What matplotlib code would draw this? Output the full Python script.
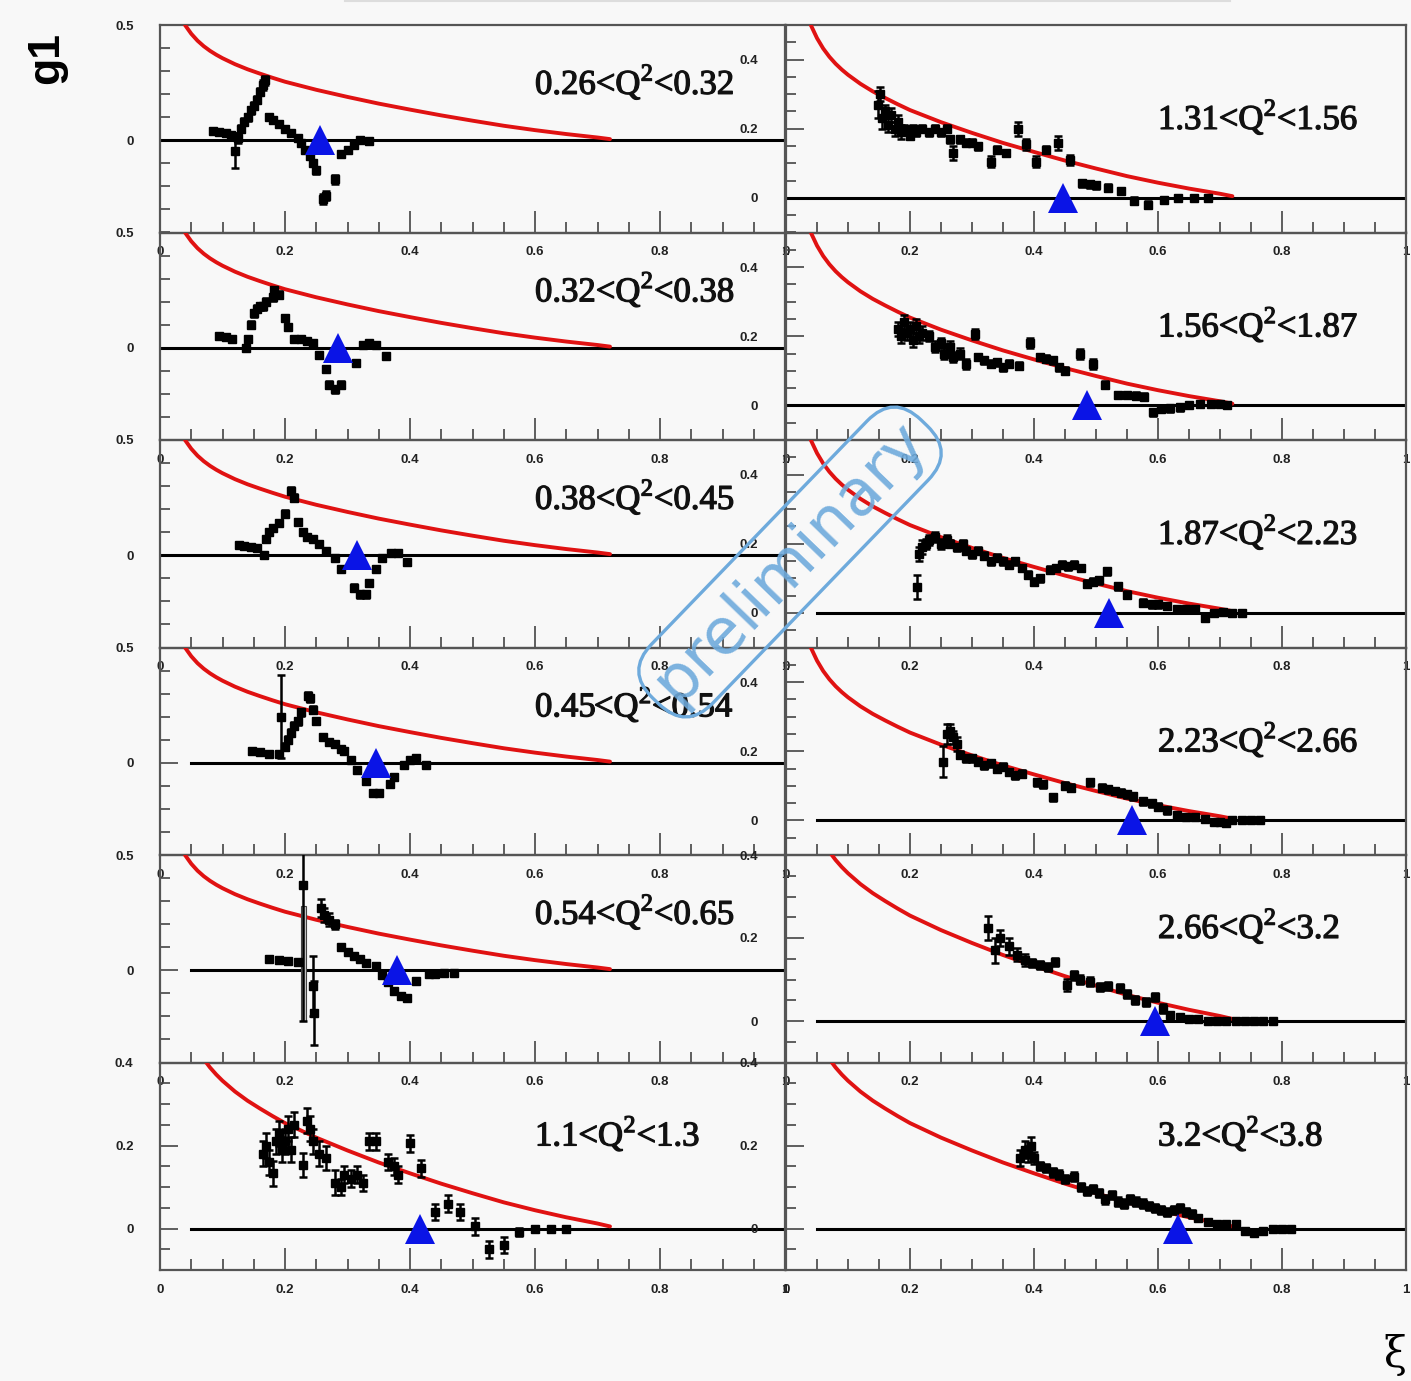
import numpy as np
import matplotlib.pyplot as plt
import matplotlib.patheffects as pe
from matplotlib.ticker import FixedLocator, FuncFormatter

plt.rcParams["mathtext.fontset"] = "custom"
plt.rcParams["mathtext.rm"] = "Liberation Serif"

# Q^2 bins: left column (rows top to bottom), then right column
q2_labels = [
    "0.26<Q$^{\\mathrm{2}}$<0.32", "0.32<Q$^{\\mathrm{2}}$<0.38",
    "0.38<Q$^{\\mathrm{2}}$<0.45", "0.45<Q$^{\\mathrm{2}}$<0.54",
    "0.54<Q$^{\\mathrm{2}}$<0.65", "1.1<Q$^{\\mathrm{2}}$<1.3",
    "1.31<Q$^{\\mathrm{2}}$<1.56", "1.56<Q$^{\\mathrm{2}}$<1.87",
    "1.87<Q$^{\\mathrm{2}}$<2.23", "2.23<Q$^{\\mathrm{2}}$<2.66",
    "2.66<Q$^{\\mathrm{2}}$<3.2", "3.2<Q$^{\\mathrm{2}}$<3.8",
]

# xi position of the blue triangle in each bin
xi_triangle = [0.256, 0.285, 0.315, 0.346, 0.379, 0.416,
               0.447, 0.485, 0.521, 0.558, 0.595, 0.632]

# model curve (same in every panel)
xi_model = [0.04, 0.05, 0.06, 0.07, 0.08, 0.09, 0.10, 0.12, 0.14, 0.16, 0.18, 0.20,
            0.25, 0.30, 0.35, 0.40, 0.45, 0.50, 0.55, 0.60, 0.65, 0.70, 0.72]
g1_model = [0.500, 0.462, 0.432, 0.408, 0.388, 0.371, 0.356, 0.330, 0.308, 0.289,
            0.271, 0.254, 0.219, 0.188, 0.159, 0.133, 0.108, 0.085, 0.063, 0.044,
            0.027, 0.012, 0.005]

# measured g1: (xi, g1, error)
bin_026_032 = [
    (0.085, 0.040, 0.01), (0.095, 0.035, 0.01), (0.105, 0.030, 0.01), (0.113, 0.025, 0.01),
    (0.120, -0.045, 0.075), (0.125, 0.010, 0.02), (0.130, 0.050, 0.015), (0.135, 0.080, 0.015),
    (0.140, 0.100, 0.015), (0.145, 0.130, 0.015), (0.150, 0.150, 0.015), (0.155, 0.175, 0.015),
    (0.160, 0.210, 0.015), (0.165, 0.240, 0.02), (0.168, 0.260, 0.02), (0.175, 0.100, 0.01),
    (0.180, 0.090, 0.01), (0.190, 0.070, 0.01), (0.200, 0.050, 0.01), (0.210, 0.030, 0.01),
    (0.220, 0.010, 0.01), (0.225, -0.010, 0.01), (0.232, -0.040, 0.01), (0.240, -0.070, 0.01),
    (0.245, -0.100, 0.01), (0.250, -0.130, 0.015), (0.260, -0.255, 0.02), (0.265, -0.240, 0.02),
    (0.280, -0.170, 0.02), (0.290, -0.060, 0.01), (0.300, -0.040, 0.01), (0.310, -0.020, 0.01),
    (0.320, 0.000, 0.01), (0.335, -0.005, 0.01),
]
bin_032_038 = [
    (0.095, 0.050, 0.01), (0.105, 0.045, 0.01), (0.115, 0.040, 0.01), (0.137, 0.000, 0.01),
    (0.140, 0.040, 0.01), (0.145, 0.100, 0.015), (0.150, 0.150, 0.015), (0.155, 0.170, 0.015),
    (0.160, 0.180, 0.015), (0.165, 0.180, 0.015), (0.170, 0.200, 0.015), (0.180, 0.220, 0.015),
    (0.183, 0.250, 0.015), (0.190, 0.230, 0.015), (0.200, 0.130, 0.01), (0.205, 0.090, 0.01),
    (0.215, 0.040, 0.01), (0.225, 0.040, 0.01), (0.235, 0.030, 0.01), (0.245, 0.020, 0.01),
    (0.255, -0.030, 0.01), (0.265, -0.090, 0.01), (0.270, -0.160, 0.015), (0.280, -0.180, 0.015),
    (0.290, -0.160, 0.015), (0.314, -0.065, 0.01), (0.325, 0.010, 0.01), (0.335, 0.020, 0.01),
    (0.345, 0.010, 0.01), (0.362, -0.035, 0.01),
]
bin_038_045 = [
    (0.126, 0.045, 0.01), (0.135, 0.040, 0.01), (0.145, 0.035, 0.01), (0.155, 0.030, 0.01),
    (0.166, 0.000, 0.01), (0.170, 0.070, 0.01), (0.175, 0.100, 0.01), (0.180, 0.120, 0.01),
    (0.190, 0.140, 0.01), (0.200, 0.180, 0.015), (0.209, 0.280, 0.015), (0.215, 0.250, 0.015),
    (0.220, 0.145, 0.01), (0.228, 0.100, 0.01), (0.235, 0.080, 0.01), (0.245, 0.070, 0.01),
    (0.255, 0.050, 0.01), (0.265, 0.020, 0.01), (0.280, -0.010, 0.01), (0.290, -0.060, 0.01),
    (0.310, -0.140, 0.015), (0.320, -0.170, 0.015), (0.330, -0.170, 0.015), (0.335, -0.120, 0.01),
    (0.345, -0.060, 0.01), (0.355, -0.010, 0.01), (0.370, 0.010, 0.01), (0.380, 0.010, 0.01),
    (0.395, -0.030, 0.01),
]
bin_045_054 = [
    (0.147, 0.050, 0.01), (0.160, 0.045, 0.01), (0.175, 0.040, 0.01), (0.190, 0.040, 0.01),
    (0.193, 0.200, 0.18), (0.200, 0.070, 0.015), (0.205, 0.100, 0.015), (0.210, 0.130, 0.015),
    (0.215, 0.160, 0.015), (0.220, 0.180, 0.015), (0.225, 0.220, 0.015), (0.236, 0.290, 0.015),
    (0.240, 0.280, 0.015), (0.245, 0.230, 0.015), (0.250, 0.180, 0.01), (0.260, 0.110, 0.01),
    (0.270, 0.090, 0.01), (0.280, 0.080, 0.01), (0.290, 0.060, 0.01), (0.295, 0.050, 0.01),
    (0.305, 0.010, 0.01), (0.315, -0.030, 0.01), (0.330, -0.080, 0.01), (0.340, -0.130, 0.01),
    (0.350, -0.130, 0.01), (0.368, -0.090, 0.01), (0.375, -0.060, 0.01), (0.390, -0.010, 0.01),
    (0.400, 0.010, 0.01), (0.410, 0.020, 0.01), (0.425, -0.010, 0.01),
]
bin_054_065 = [
    (0.175, 0.050, 0.01), (0.190, 0.045, 0.01), (0.205, 0.040, 0.01), (0.220, 0.035, 0.01),
    (0.229, 0.370, 0.59), (0.245, -0.070, 0.13), (0.247, -0.185, 0.14), (0.257, 0.270, 0.04),
    (0.262, 0.240, 0.03), (0.270, 0.220, 0.03), (0.280, 0.200, 0.02), (0.290, 0.100, 0.01),
    (0.300, 0.080, 0.01), (0.310, 0.060, 0.01), (0.320, 0.050, 0.01), (0.330, 0.030, 0.01),
    (0.345, 0.020, 0.01), (0.355, -0.020, 0.01), (0.365, -0.050, 0.01), (0.375, -0.090, 0.01),
    (0.385, -0.110, 0.01), (0.395, -0.120, 0.01), (0.410, -0.045, 0.01), (0.430, -0.015, 0.01),
    (0.440, -0.015, 0.01), (0.455, -0.010, 0.01), (0.470, -0.010, 0.01),
]
bin_11_13 = [
    (0.165, 0.180, 0.03), (0.170, 0.200, 0.03), (0.175, 0.160, 0.03), (0.180, 0.133, 0.03),
    (0.185, 0.210, 0.03), (0.190, 0.230, 0.03), (0.195, 0.190, 0.03), (0.200, 0.210, 0.03),
    (0.205, 0.240, 0.03), (0.210, 0.190, 0.03), (0.215, 0.250, 0.03), (0.228, 0.153, 0.03),
    (0.235, 0.260, 0.03), (0.240, 0.240, 0.03), (0.245, 0.210, 0.03), (0.255, 0.180, 0.03),
    (0.265, 0.170, 0.03), (0.280, 0.110, 0.03), (0.290, 0.100, 0.02), (0.295, 0.130, 0.02),
    (0.305, 0.120, 0.02), (0.315, 0.130, 0.02), (0.325, 0.110, 0.02), (0.335, 0.210, 0.02),
    (0.345, 0.210, 0.02), (0.365, 0.160, 0.02), (0.375, 0.150, 0.02), (0.380, 0.130, 0.02),
    (0.400, 0.205, 0.02), (0.418, 0.145, 0.02), (0.440, 0.040, 0.02), (0.460, 0.060, 0.02),
    (0.480, 0.040, 0.02), (0.504, 0.005, 0.02), (0.527, -0.050, 0.02), (0.550, -0.040, 0.02),
    (0.575, -0.008, 0.01), (0.600, 0.000, 0.005), (0.626, 0.000, 0.005), (0.650, 0.000, 0.005),
]
bin_131_156 = [
    (0.148, 0.270, 0.04), (0.152, 0.300, 0.02), (0.155, 0.230, 0.03), (0.160, 0.250, 0.02),
    (0.165, 0.210, 0.02), (0.170, 0.240, 0.02), (0.175, 0.200, 0.02), (0.180, 0.220, 0.02),
    (0.185, 0.190, 0.02), (0.190, 0.200, 0.01), (0.200, 0.180, 0.01), (0.205, 0.200, 0.01),
    (0.210, 0.190, 0.01), (0.220, 0.200, 0.01), (0.230, 0.190, 0.01), (0.240, 0.200, 0.01),
    (0.250, 0.190, 0.01), (0.260, 0.200, 0.01), (0.265, 0.170, 0.01), (0.270, 0.130, 0.02),
    (0.280, 0.170, 0.01), (0.290, 0.160, 0.01), (0.300, 0.160, 0.01), (0.310, 0.150, 0.01),
    (0.330, 0.105, 0.015), (0.340, 0.140, 0.01), (0.355, 0.130, 0.01), (0.374, 0.200, 0.02),
    (0.387, 0.155, 0.015), (0.403, 0.105, 0.015), (0.420, 0.140, 0.01), (0.439, 0.160, 0.02),
    (0.458, 0.110, 0.015), (0.477, 0.043, 0.01), (0.490, 0.040, 0.01), (0.500, 0.037, 0.01),
    (0.520, 0.030, 0.01), (0.540, 0.020, 0.01), (0.561, -0.008, 0.01), (0.584, -0.020, 0.01),
    (0.610, -0.005, 0.005), (0.632, 0.000, 0.005), (0.658, 0.000, 0.005), (0.680, 0.000, 0.005),
]
bin_156_187 = [
    (0.180, 0.220, 0.02), (0.185, 0.200, 0.02), (0.190, 0.240, 0.02), (0.195, 0.210, 0.02),
    (0.200, 0.220, 0.02), (0.205, 0.190, 0.02), (0.210, 0.230, 0.02), (0.215, 0.200, 0.02),
    (0.220, 0.210, 0.02), (0.230, 0.200, 0.015), (0.240, 0.170, 0.015), (0.250, 0.180, 0.015),
    (0.255, 0.150, 0.015), (0.265, 0.170, 0.015), (0.270, 0.140, 0.015), (0.280, 0.150, 0.015),
    (0.290, 0.120, 0.015), (0.305, 0.206, 0.015), (0.310, 0.140, 0.01), (0.320, 0.130, 0.01),
    (0.330, 0.120, 0.01), (0.340, 0.125, 0.01), (0.350, 0.110, 0.01), (0.360, 0.120, 0.01),
    (0.375, 0.115, 0.01), (0.394, 0.180, 0.015), (0.410, 0.140, 0.01), (0.420, 0.135, 0.01),
    (0.430, 0.130, 0.01), (0.440, 0.110, 0.01), (0.450, 0.100, 0.01), (0.474, 0.148, 0.015),
    (0.495, 0.120, 0.015), (0.515, 0.060, 0.01), (0.535, 0.030, 0.01), (0.550, 0.030, 0.01),
    (0.565, 0.028, 0.01), (0.578, 0.025, 0.01), (0.592, -0.020, 0.01), (0.605, -0.010, 0.01),
    (0.620, -0.008, 0.01), (0.635, -0.005, 0.01), (0.650, 0.000, 0.005), (0.668, 0.005, 0.005),
    (0.685, 0.005, 0.005), (0.700, 0.003, 0.005), (0.712, 0.000, 0.005),
]
bin_187_223 = [
    (0.211, 0.076, 0.035), (0.215, 0.170, 0.02), (0.220, 0.190, 0.02), (0.225, 0.200, 0.015),
    (0.230, 0.210, 0.015), (0.240, 0.220, 0.015), (0.250, 0.200, 0.015), (0.260, 0.210, 0.015),
    (0.265, 0.200, 0.01), (0.275, 0.190, 0.01), (0.285, 0.200, 0.01), (0.290, 0.180, 0.01),
    (0.300, 0.170, 0.01), (0.310, 0.180, 0.01), (0.320, 0.165, 0.01), (0.330, 0.150, 0.01),
    (0.340, 0.160, 0.01), (0.350, 0.150, 0.01), (0.360, 0.140, 0.01), (0.370, 0.150, 0.01),
    (0.380, 0.130, 0.01), (0.390, 0.110, 0.01), (0.400, 0.090, 0.01), (0.410, 0.100, 0.01),
    (0.425, 0.125, 0.01), (0.435, 0.130, 0.01), (0.445, 0.140, 0.01), (0.455, 0.135, 0.01),
    (0.465, 0.140, 0.01), (0.475, 0.130, 0.01), (0.485, 0.085, 0.01), (0.495, 0.090, 0.01),
    (0.505, 0.095, 0.01), (0.517, 0.120, 0.01), (0.535, 0.077, 0.01), (0.550, 0.053, 0.01),
    (0.575, 0.030, 0.01), (0.590, 0.025, 0.01), (0.600, 0.025, 0.01), (0.615, 0.020, 0.01),
    (0.630, 0.012, 0.005), (0.645, 0.012, 0.005), (0.660, 0.010, 0.005), (0.676, -0.014, 0.01),
    (0.690, 0.000, 0.005), (0.705, 0.003, 0.005), (0.720, 0.000, 0.005), (0.735, 0.000, 0.005),
]
bin_223_266 = [
    (0.254, 0.170, 0.045), (0.260, 0.250, 0.03), (0.265, 0.260, 0.02), (0.270, 0.240, 0.02),
    (0.275, 0.220, 0.02), (0.280, 0.190, 0.01), (0.290, 0.180, 0.01), (0.300, 0.180, 0.01),
    (0.310, 0.170, 0.01), (0.320, 0.160, 0.01), (0.330, 0.165, 0.01), (0.340, 0.150, 0.01),
    (0.350, 0.155, 0.01), (0.360, 0.140, 0.01), (0.370, 0.130, 0.01), (0.380, 0.135, 0.01),
    (0.405, 0.110, 0.01), (0.415, 0.105, 0.01), (0.431, 0.067, 0.01), (0.450, 0.100, 0.01),
    (0.460, 0.095, 0.01), (0.490, 0.110, 0.01), (0.510, 0.095, 0.01), (0.520, 0.090, 0.01),
    (0.530, 0.085, 0.01), (0.540, 0.080, 0.01), (0.550, 0.075, 0.01), (0.560, 0.070, 0.01),
    (0.575, 0.055, 0.01), (0.590, 0.050, 0.01), (0.600, 0.040, 0.01), (0.615, 0.030, 0.01),
    (0.630, 0.015, 0.005), (0.645, 0.010, 0.005), (0.660, 0.010, 0.005), (0.675, 0.005, 0.005),
    (0.690, -0.005, 0.005), (0.700, -0.005, 0.005), (0.710, -0.008, 0.005), (0.720, 0.000, 0.005),
    (0.735, 0.000, 0.005), (0.750, 0.000, 0.005), (0.765, 0.000, 0.005),
]
bin_266_32 = [
    (0.326, 0.224, 0.03), (0.337, 0.170, 0.03), (0.345, 0.200, 0.02), (0.360, 0.180, 0.02),
    (0.372, 0.160, 0.015), (0.385, 0.147, 0.015), (0.397, 0.140, 0.01), (0.410, 0.135, 0.01),
    (0.422, 0.130, 0.01), (0.434, 0.142, 0.01), (0.453, 0.087, 0.015), (0.465, 0.110, 0.01),
    (0.474, 0.100, 0.01), (0.490, 0.095, 0.01), (0.506, 0.082, 0.01), (0.520, 0.085, 0.01),
    (0.539, 0.080, 0.01), (0.550, 0.065, 0.01), (0.563, 0.050, 0.01), (0.580, 0.045, 0.01),
    (0.595, 0.058, 0.01), (0.608, 0.030, 0.01), (0.620, 0.015, 0.005), (0.635, 0.010, 0.005),
    (0.650, 0.005, 0.005), (0.665, 0.005, 0.005), (0.680, 0.000, 0.005), (0.695, 0.000, 0.005),
    (0.710, 0.000, 0.005), (0.725, 0.000, 0.005), (0.740, 0.000, 0.005), (0.755, 0.000, 0.005),
    (0.770, 0.000, 0.005), (0.785, 0.000, 0.005),
]
bin_32_38 = [
    (0.378, 0.170, 0.02), (0.385, 0.190, 0.02), (0.390, 0.180, 0.02), (0.395, 0.200, 0.02),
    (0.400, 0.170, 0.015), (0.410, 0.150, 0.01), (0.420, 0.145, 0.01), (0.430, 0.135, 0.01),
    (0.440, 0.130, 0.01), (0.450, 0.120, 0.01), (0.465, 0.125, 0.01), (0.475, 0.100, 0.01),
    (0.485, 0.090, 0.01), (0.495, 0.095, 0.01), (0.505, 0.085, 0.01), (0.515, 0.070, 0.01),
    (0.525, 0.080, 0.01), (0.535, 0.065, 0.01), (0.545, 0.060, 0.01), (0.555, 0.070, 0.01),
    (0.565, 0.065, 0.01), (0.575, 0.060, 0.01), (0.585, 0.055, 0.01), (0.595, 0.050, 0.01),
    (0.605, 0.045, 0.01), (0.615, 0.040, 0.01), (0.625, 0.045, 0.01), (0.635, 0.050, 0.01),
    (0.645, 0.040, 0.01), (0.655, 0.035, 0.01), (0.665, 0.025, 0.005), (0.680, 0.015, 0.005),
    (0.695, 0.010, 0.005), (0.710, 0.010, 0.005), (0.725, 0.012, 0.005), (0.740, -0.005, 0.005),
    (0.755, -0.010, 0.005), (0.770, -0.005, 0.005), (0.785, 0.000, 0.005), (0.800, 0.000, 0.005),
    (0.815, 0.000, 0.005),
]

g1_bins = [bin_026_032, bin_032_038, bin_038_045, bin_045_054, bin_054_065, bin_11_13,
           bin_131_156, bin_156_187, bin_187_223, bin_223_266, bin_266_32, bin_32_38]

# large systematic band in the 0.54<Q2<0.65 bin: (xi, low, high)
syst_band = (0.229, -0.22, 0.28)

# y ranges and where the zero line starts
y_ranges = [(-0.4, 0.5)] * 5 + [(-0.1, 0.4)] + [(-0.1, 0.5)] * 4 + [(-0.1, 0.4)] * 2
zero_start = [0.0, 0.0, 0.0, 0.05, 0.05, 0.05, 0.0, 0.0, 0.05, 0.05, 0.05, 0.05]

W, H = 1411, 1381
fig = plt.figure(figsize=(W / 100, H / 100), dpi=100, facecolor="#f8f8f8")

col_x = [(160, 625), (786, 620)]
row_top = [25, 232.5, 440, 647.5, 855, 1062.5]
row_h = 207.5

fmt = FuncFormatter(lambda v, p: "%g" % round(v, 2))
heavy = [pe.withStroke(linewidth=0.9, foreground="#111111")]

for i in range(12):
    col, row = divmod(i, 6)
    x0, w = col_x[col]
    top = row_top[row]
    ax = fig.add_axes([x0 / W, 1 - (top + row_h) / H, w / W, row_h / H])
    ax.patch.set_visible(False)
    ylo, yhi = y_ranges[i]
    ax.set_xlim(0, 1)
    ax.set_ylim(ylo, yhi)

    # axes ticks
    ax.xaxis.set_major_locator(FixedLocator([0, 0.2, 0.4, 0.6, 0.8, 1.0]))
    ax.xaxis.set_minor_locator(FixedLocator(np.arange(0, 1.001, 0.05)))
    if yhi - ylo > 0.8:
        ax.yaxis.set_major_locator(FixedLocator([0, 0.5]))
        ax.yaxis.set_minor_locator(FixedLocator(np.arange(-0.4, 0.51, 0.1)))
    else:
        ax.yaxis.set_major_locator(FixedLocator([0, 0.2, 0.4]))
        ax.yaxis.set_minor_locator(FixedLocator(np.arange(-0.1, 0.51, 0.05)))
    ax.xaxis.set_major_formatter(fmt)
    ax.yaxis.set_major_formatter(fmt)
    ax.tick_params(axis="x", which="major", direction="in", length=16, width=1.2,
                   pad=10, color="#444444")
    ax.tick_params(axis="x", which="minor", direction="in", length=8, width=1.2,
                   color="#444444")
    ax.tick_params(axis="y", which="major", direction="in", length=13, width=1.2,
                   pad=19 if col == 0 else 20, color="#444444")
    ax.tick_params(axis="y", which="minor", direction="in", length=7, width=1.2,
                   color="#444444")
    for lab in ax.get_xticklabels() + ax.get_yticklabels():
        lab.set_fontfamily("Liberation Sans")
        lab.set_fontweight("bold")
        lab.set_fontsize(9.5)
        lab.set_color("#222222")
    for sp in ax.spines.values():
        sp.set_color("#555555")
        sp.set_linewidth(1.6)

    # zero line
    ax.plot([zero_start[i], 1.0], [0, 0], color="black", lw=2.2, zorder=2)

    # model curve
    ax.plot(xi_model, g1_model, color="#e01212", lw=2.8, zorder=3,
            solid_capstyle="round", solid_joinstyle="round")

    # systematic band
    if i == 4:
        bx, blo, bhi = syst_band
        ax.bar(bx, bhi - blo, bottom=blo, width=0.008, color="#c8c8c8",
               edgecolor="#444444", lw=0.8, zorder=3)

    # data
    pts = g1_bins[i]
    xs = [p[0] for p in pts]
    ys = [p[1] for p in pts]
    es = [p[2] for p in pts]
    ax.errorbar(xs, ys, yerr=es, fmt="s", color="black", ms=6, elinewidth=1.8,
                capsize=3, capthick=1.8, zorder=4)

    # triangle marker on the zero line
    ax.plot(xi_triangle[i], 0, marker="^", color="#0a14e6", ms=22, mew=0, zorder=5)

    # bin label
    ty = 0.725 if (col == 0 and row < 5) else (0.556 if row < 4 else 0.657)
    ax.text(0.6, ty, q2_labels[i], transform=ax.transAxes, ha="left", va="center",
            fontsize=25, family="Liberation Serif", color="#111111", zorder=6,
            path_effects=heavy)

# axis titles
fig.text(47 / W, 1 - 58 / H, "g1", rotation=90, ha="center", va="center",
         fontsize=32, weight="bold", family="Liberation Sans")
fig.text(1395 / W, 1 - 1355 / H, "ξ", ha="center", va="center",
         fontsize=30, family="DejaVu Serif")

# watermark
fig.text(790 / W, 1 - 562 / H, "preliminary", rotation=46, ha="center", va="center",
         fontsize=46, color="#6eaadc", alpha=0.9, family="DejaVu Sans",
         bbox=dict(boxstyle="round,pad=0.18,rounding_size=0.6", fc="none",
                   ec="#6eaadc", lw=2.4), zorder=10)

# faint frame line at the top
fig.add_artist(plt.Line2D([345 / W, 1230 / W], [0.999, 0.999], color="#dddddd", lw=1.5))

fig.savefig("out.png", dpi=100, facecolor=fig.get_facecolor())
